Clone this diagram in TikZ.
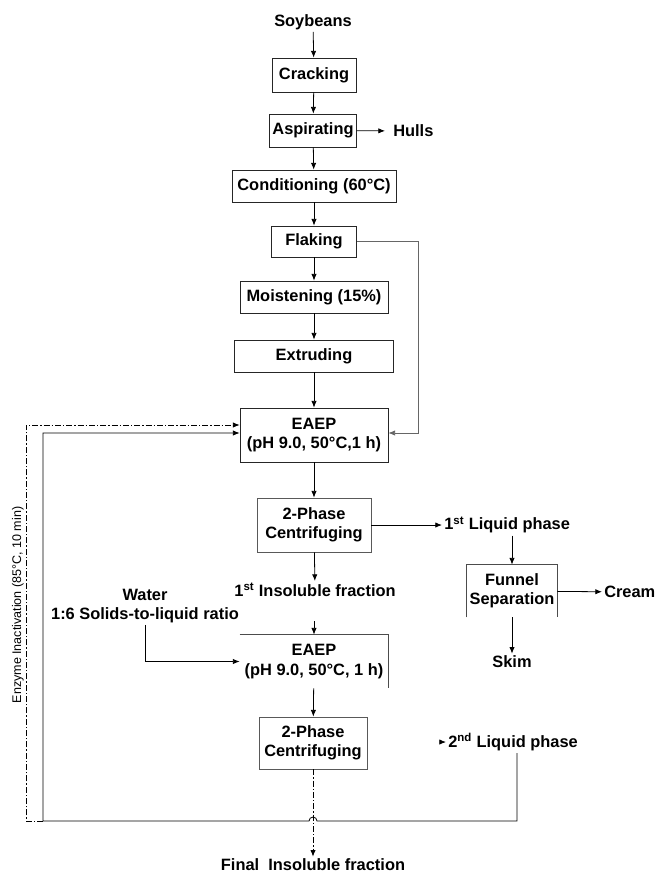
\documentclass[tikz,border=0pt]{standalone}
\usepackage{fontspec}
\setmainfont{Liberation Sans}
\usetikzlibrary{arrows.meta, positioning}

\tikzset{
    box/.style={draw=black!85, line width=0.6pt, inner sep=0pt, align=center,
        font=\bfseries\fontsize{12.3}{14.5}\selectfont},
    lbl/.style={inner sep=1.5pt, align=center, font=\bfseries\fontsize{12.3}{14}\selectfont},
    flow/.style={line width=0.6pt, -{Latex[length=5pt,width=4pt]}},
    link/.style={line width=0.6pt},
    dashdot/.style={dash pattern=on 4.5pt off 1.5pt on 1pt off 1.5pt},
}

\begin{document}
\begin{tikzpicture}[x=0.75pt, y=-0.75pt]
        \useasboundingbox (0,0) rectangle (656,875);
        \node[lbl] (soy) at (313,22) {Soybeans};
        \node[box, minimum width=63pt, minimum height=25.5pt] (crk) at (314,75) {Cracking};
        \node[box, minimum width=65.25pt, minimum height=24.75pt] (asp) at (313,130.5) {Aspirating};
        \node[lbl, anchor=west, inner xsep=6pt] (hul) at (385,131) {Hulls};
        \node[box, minimum width=123pt, minimum height=24pt] (cond) at (314,186) {Conditioning (60°C)};
        \node[box, minimum width=63.75pt, minimum height=23.25pt] (flak) at (314,241.5) {Flaking};
        \node[box, minimum width=111pt, minimum height=24pt] (moist) at (314,297) {Moistening (15\%)};
        \node[box, minimum width=119.25pt, minimum height=24pt] (extr) at (314,356) {Extruding};
        \node[box, minimum width=111pt, minimum height=40.5pt] (eaep1) at (314,435) {EAEP\\(pH 9.0, 50°C,1 h)};
        \node[box, draw=black!65, minimum width=85.5pt, minimum height=40.5pt] (cent1) at (314,525) {2-Phase\\Centrifuging};
        \node[lbl, anchor=west] (liq1) at (442,525) {1\textsuperscript{st} Liquid phase};
        \node[box, draw=none, minimum width=67.5pt, minimum height=39pt] (fun) at (512,591) {Funnel\\Separation};
        \node[lbl, anchor=west] (crm) at (602,592) {Cream};
        \node[lbl] (skm) at (512,662) {Skim};
        \node[lbl] (ins1) at (315,590) {1\textsuperscript{st} Insoluble fraction};
        \node[lbl] (wat) at (145,606) {Water\\1:6 Solids-to-liquid ratio};
        \node[box, draw=none, minimum width=111pt, minimum height=39.75pt] (eaep2) at (314,661.5) {EAEP\\(pH 9.0, 50°C, 1 h)};
        \node[box, draw=black!65, minimum width=81pt, minimum height=39pt] (cent2) at (313,743) {2-Phase\\Centrifuging};
        \node[lbl, anchor=west] (liq2) at (446,742) {2\textsuperscript{nd} Liquid phase};
        \node[lbl] (fin) at (313,865) {Final\ \ Insoluble fraction};
        \node[rotate=90, inner sep=0pt, font=\fontsize{9.4}{11}\selectfont] (enz) at (18,605) {Enzyme Inactivation (85°C, 10 min)};

        \coordinate (fk) at (418,433);
        \coordinate (i2) at (314,621);
        \coordinate (l2) at (440,742);
        \coordinate (r1) at (517,753);
        \coordinate (r2) at (517,821);
        \coordinate (r3) at (43,821);
        \coordinate (e1) at (26,821);

        \draw[flow] (soy) -- (crk);
        \draw[flow] (crk) -- (asp);
        \draw[flow] (asp) -- (hul);
        \draw[flow] (asp) -- (cond);
        \draw[flow] (cond) -- (flak);
        \draw[flow] (flak) -- (moist);
        \draw[flow] (moist) -- (extr);
        \draw[flow] (extr) -- (eaep1);
        \draw[flow, draw=black!60] (flak) -| (fk) -- (eaep1.east |- fk);
        \draw[flow] (eaep1) -- (cent1);
        \draw[flow] (cent1) -- (liq1);
        \draw[flow] (cent1) -- (ins1);
        \draw[flow] (liq1.south -| fun) -- (fun);
        \draw[link, draw=black!70] (fun.south west) |- (fun.north east) -- (fun.south east);
        \draw[flow] (fun) -- (crm);
        \draw[flow] (fun) -- (skm);
        \draw[link, draw=black!70] (eaep2.north west) -- (eaep2.north east) -- (eaep2.south east);
        \draw[flow] (i2) -- (eaep2);
        \draw[flow] (wat) |- (eaep2);
        \draw[flow] (eaep2) -- (cent2);
        \draw[flow] (l2) -- (liq2);
        \draw[flow, dashdot] (cent2) -- (fin);
        \draw[flow] (r1) -- (r2) -- (317,821) arc[start angle=0, end angle=180, radius=3pt] -- (r3) |- ([yshift=1.5pt]eaep1.west);
        \draw[flow, dashdot] (r3) -- (e1) |- ([yshift=7.5pt]eaep1.west);
\end{tikzpicture}
\end{document}
